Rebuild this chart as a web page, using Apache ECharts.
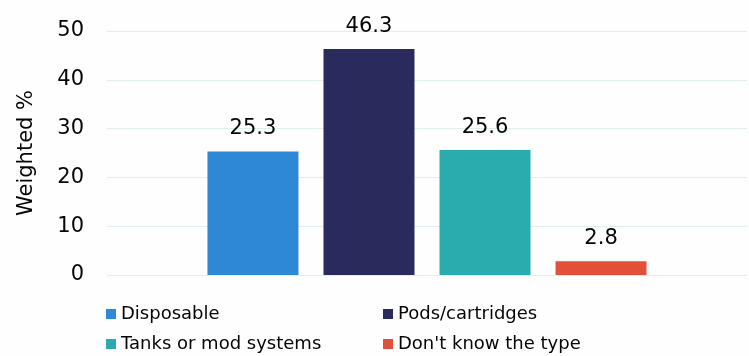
<!DOCTYPE html>
<html>
<head>
<meta charset="utf-8">
<script src="https://cdn.jsdelivr.net/npm/echarts@6/dist/echarts.min.js"></script>
<style>
  html, body { margin: 0; padding: 0; background: #fdfefd; }
  #chart { width: 749px; height: 356px; }
</style>
</head>
<body>
<div id="chart"></div>
<script>
// Device types used, weighted share of respondents
const deviceTypes = ['Disposable', 'Pods/cartridges', 'Tanks or mod systems', "Don't know the type"];
const weightedShare = [25.3, 46.3, 25.6, 2.8];
const barColors = ['#2f88d6', '#2b2a5c', '#2aacaf', '#e2503a'];
const yTicks = { min: 0, max: 50, interval: 10 };

const FONT = 'DejaVu Sans';
const TEXT = '#050505';

const series = deviceTypes.map((name, i) => ({
  name,
  type: 'bar',
  data: [weightedShare[i]],
  barWidth: 91,
  barGap: '27.5%',
  itemStyle: { color: barColors[i] },
  label: {
    show: true,
    position: 'top',
    distance: 12,
    color: TEXT,
    fontFamily: FONT,
    fontSize: 21,
    formatter: p => p.value.toFixed(1)
  }
}));

// Legend as a 2x2 block: one legend entry per slot
const legendSlots = [
  { left: 106, top: 304 },  // Disposable
  { left: 383, top: 304 },  // Pods/cartridges
  { left: 106, top: 334 },  // Tanks or mod systems
  { left: 383, top: 334 }   // Don't know the type
];
const legends = deviceTypes.map((name, i) => ({
  data: [name],
  left: legendSlots[i].left,
  top: legendSlots[i].top,
  padding: 0,
  icon: 'rect',
  itemWidth: 10,
  itemHeight: 10,
  textStyle: { color: TEXT, fontFamily: FONT, fontSize: 18, lineHeight: 20 }
}));

const chart = echarts.init(document.getElementById('chart'), null, { renderer: 'canvas' });
chart.setOption({
  backgroundColor: '#fdfefd',
  animation: false,
  grid: { left: 107, right: 2, top: 31, bottom: 81 },
  legend: legends,
  xAxis: {
    type: 'category',
    data: [''],
    axisLine: { show: false },
    axisTick: { show: false },
    axisLabel: { show: false }
  },
  yAxis: {
    type: 'value',
    min: yTicks.min,
    max: yTicks.max,
    interval: yTicks.interval,
    name: 'Weighted %',
    nameLocation: 'middle',
    nameGap: 70,
    nameTextStyle: { color: TEXT, fontFamily: FONT, fontSize: 21 },
    axisLabel: { color: TEXT, fontFamily: FONT, fontSize: 21, margin: 23 },
    axisLine: { show: false },
    axisTick: { show: false },
    splitLine: { lineStyle: { color: '#e2eeeb', width: 1 } }
  },
  series
});
</script>
</body>
</html>
